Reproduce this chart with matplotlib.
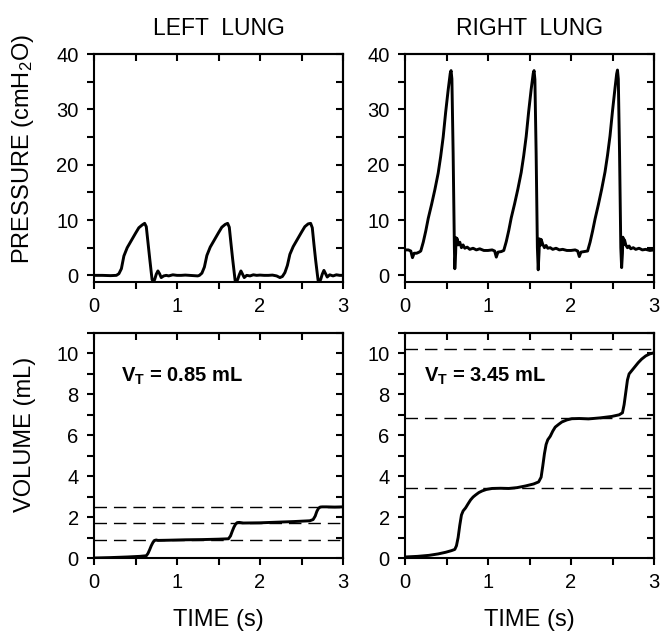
import matplotlib
matplotlib.use("Agg")
import matplotlib.pyplot as plt
from matplotlib.ticker import MultipleLocator

plt.rcParams['font.family'] = ['Liberation Sans', 'DejaVu Sans']
plt.rcParams['mathtext.fontset'] = 'custom'
plt.rcParams['mathtext.rm'] = 'Liberation Sans'
plt.rcParams['mathtext.it'] = 'Liberation Sans:italic'
plt.rcParams['mathtext.bf'] = 'Liberation Sans:bold'

# ---------------- data ----------------
left_p_t = [0.00, 0.10, 0.20, 0.27, 0.30, 0.33, 0.36, 0.40, 0.45, 0.50, 0.54, 0.58, 0.61, 0.63, 0.65, 0.67,
            0.69, 0.70, 0.73, 0.75, 0.77, 0.79, 0.81, 0.84, 0.87, 0.90, 0.95, 1.00, 1.05, 1.10, 1.15, 1.20,
            1.25, 1.27, 1.30, 1.33, 1.36, 1.40, 1.45, 1.50, 1.54, 1.58, 1.61, 1.63, 1.65, 1.67, 1.69, 1.70,
            1.73, 1.75, 1.77, 1.79, 1.81, 1.84, 1.88, 1.92, 1.96, 2.00, 2.05, 2.10, 2.15, 2.20, 2.24, 2.27,
            2.30, 2.33, 2.36, 2.40, 2.45, 2.50, 2.54, 2.58, 2.61, 2.63, 2.65, 2.67, 2.69, 2.70, 2.73, 2.75,
            2.77, 2.79, 2.81, 2.84, 2.88, 2.92, 2.96, 3.00]
left_p = [0.0, 0.0, -0.05, 0.0, 0.3, 1.2, 3.5, 5.0, 6.3, 7.6, 8.6, 9.1, 9.4, 8.8, 6.0, 3.2,
          0.5, -0.8, -0.8, 0.2, 0.8, 0.3, -0.4, -0.1, 0.0, -0.1, 0.1, 0.0, 0.0, 0.05, 0.0, -0.05,
          -0.1, 0.0, 0.4, 1.5, 3.6, 5.1, 6.4, 7.7, 8.7, 9.2, 9.4, 8.7, 5.8, 3.0, 0.4, -0.9,
          -0.8, 0.1, 0.8, 0.2, -0.4, 0.0, -0.1, 0.1, 0.0, 0.05, 0.0, 0.0, 0.05, -0.1, -0.4, -0.2,
          0.5, 1.8, 3.8, 5.2, 6.5, 7.8, 8.8, 9.3, 9.4, 8.6, 5.6, 2.8, 0.3, -0.9, -0.8, 0.2,
          0.9, 0.3, -0.3, 0.1, -0.1, 0.1, 0.0, 0.0]

right_p_t = [0.00, 0.04, 0.07, 0.09, 0.11, 0.14, 0.17, 0.19, 0.22, 0.25, 0.28, 0.32, 0.36, 0.40, 0.43, 0.46,
             0.49, 0.52, 0.545, 0.555, 0.565, 0.58, 0.595, 0.60, 0.61, 0.615, 0.62, 0.63, 0.64, 0.66, 0.68, 0.70,
             0.72, 0.75, 0.78, 0.82, 0.86, 0.90, 0.95, 1.00, 1.05, 1.08, 1.10, 1.12, 1.16, 1.19,
             1.22, 1.25, 1.28, 1.32, 1.36, 1.40, 1.43, 1.46, 1.49, 1.52, 1.545, 1.555, 1.565, 1.58, 1.595, 1.605,
             1.615, 1.62, 1.63, 1.64, 1.66, 1.68, 1.70, 1.72, 1.75, 1.78, 1.82, 1.86, 1.90, 1.95, 2.00, 2.05,
             2.08, 2.10, 2.12, 2.16, 2.20,
             2.23, 2.26, 2.29, 2.33, 2.37, 2.41, 2.44, 2.47, 2.50, 2.53, 2.55, 2.56, 2.57, 2.585, 2.60, 2.61,
             2.62, 2.625, 2.635, 2.645, 2.66, 2.68, 2.70, 2.72, 2.75, 2.78, 2.82, 2.86, 2.90, 2.95, 3.00]
right_p = [4.6, 4.6, 4.4, 3.2, 4.0, 4.0, 4.2, 4.4, 6.0, 8.0, 10.3, 12.8, 15.5, 18.5, 21.5, 25.0,
           29.5, 33.5, 36.5, 37.0, 35.5, 22.0, 5.0, 1.2, 4.0, 6.8, 5.5, 6.6, 5.5, 6.0, 5.0, 5.5,
           4.9, 5.1, 4.7, 4.9, 4.6, 4.8, 4.5, 4.5, 4.6, 4.4, 3.3, 4.2, 4.3, 4.5,
           6.1, 8.1, 10.4, 12.9, 15.6, 18.6, 21.6, 25.1, 29.6, 33.6, 36.5, 37.0, 35.4, 22.0, 5.0, 1.0,
           4.2, 6.6, 5.4, 6.5, 5.6, 5.0, 5.4, 4.9, 5.0, 4.7, 4.9, 4.6, 4.7, 4.5, 4.5, 4.6,
           4.4, 3.4, 4.2, 4.3, 4.4,
           6.0, 8.0, 10.2, 12.8, 15.6, 18.7, 21.7, 25.2, 29.7, 33.8, 36.4, 37.1, 35.5, 22.0, 5.0, 1.4,
           4.0, 6.9, 5.6, 6.4, 5.5, 5.0, 5.3, 4.8, 5.0, 4.7, 4.9, 4.6, 4.7, 4.5, 4.6]

left_v_t = [0.0, 0.2, 0.4, 0.55, 0.63, 0.65, 0.67, 0.69, 0.71, 0.73, 0.75, 0.77, 0.9, 1.1, 1.3, 1.5,
            1.62, 1.645, 1.665, 1.685, 1.705, 1.725, 1.75, 1.8, 2.0, 2.2, 2.4, 2.6, 2.64, 2.665, 2.685,
            2.705, 2.725, 2.75, 2.8, 2.9, 3.0]
left_v = [0.0, 0.02, 0.05, 0.08, 0.11, 0.22, 0.4, 0.6, 0.76, 0.86, 0.88, 0.86, 0.87, 0.89, 0.9, 0.92,
          0.94, 1.08, 1.3, 1.5, 1.65, 1.73, 1.74, 1.71, 1.72, 1.75, 1.78, 1.82, 1.88, 2.05, 2.28,
          2.43, 2.49, 2.5, 2.5, 2.49, 2.5]

right_v_t = [0.0, 0.15, 0.29, 0.40, 0.49, 0.56, 0.60, 0.62, 0.64, 0.66, 0.68, 0.70, 0.73, 0.76, 0.79, 0.82,
             0.85, 0.89, 0.93, 0.98, 1.05, 1.15, 1.25, 1.35, 1.45, 1.55, 1.61, 1.64, 1.66, 1.68, 1.70, 1.72,
             1.75, 1.78, 1.81, 1.85, 1.89, 1.95, 2.01, 2.10, 2.21, 2.35, 2.49, 2.58, 2.62, 2.64, 2.66, 2.68,
             2.70, 2.73, 2.77, 2.81, 2.85, 2.90, 2.95, 3.00]
right_v = [0.05, 0.08, 0.13, 0.2, 0.28, 0.36, 0.42, 0.6, 1.0, 1.6, 2.1, 2.3, 2.45, 2.65, 2.84, 2.98,
           3.08, 3.2, 3.28, 3.35, 3.4, 3.41, 3.4, 3.44, 3.52, 3.62, 3.72, 3.95, 4.5, 5.1, 5.55, 5.78,
           5.95, 6.2, 6.4, 6.53, 6.65, 6.75, 6.81, 6.82, 6.8, 6.85, 6.92, 7.0, 7.1, 7.5, 8.1, 8.7,
           9.0, 9.15, 9.35, 9.55, 9.72, 9.88, 9.98, 10.03]

left_levels = [0.86, 1.69, 2.49]
right_levels = [3.44, 6.84, 10.24]

titles = ["LEFT  LUNG", "RIGHT  LUNG"]
vt_labels = [r"V$_{\mathbf{T}}$ = 0.85 mL", r"V$_{\mathbf{T}}$ = 3.45 mL"]
x_ticks = [0, 1, 2, 3]
p_ticks = [0, 10, 20, 30, 40]
v_ticks = [0, 2, 4, 6, 8, 10]

# ---------------- figure ----------------
W, H = 661, 636
fig = plt.figure(figsize=(W / 100, H / 100), dpi=100)


def rect(x0, y0, x1, y1):
    return [x0 / W, 1 - y1 / H, (x1 - x0) / W, (y1 - y0) / H]


LW = 1.5
TRACE = 2.1
TICKFS = 14.5
LABFS = 16.5
YLABFS = 17


def style(ax, yt, ymin_loc):
    for s in ax.spines.values():
        s.set_linewidth(LW)
    ax.set_xlim(0, 3)
    ax.set_xticks(x_ticks)
    ax.xaxis.set_minor_locator(MultipleLocator(0.5))
    ax.set_yticks(yt)
    ax.yaxis.set_minor_locator(MultipleLocator(ymin_loc))
    ax.tick_params(which='both', direction='out', length=5, width=LW, labelsize=TICKFS,
                   top=False, right=False, pad=6)
    secx = ax.secondary_xaxis('top')
    secx.set_xticks(x_ticks)
    secx.xaxis.set_minor_locator(MultipleLocator(0.5))
    secx.tick_params(which='both', direction='in', length=5, width=LW, labeltop=False)
    secx.spines['top'].set_linewidth(LW)
    secy = ax.secondary_yaxis('right')
    secy.set_yticks(yt)
    secy.yaxis.set_minor_locator(MultipleLocator(ymin_loc))
    secy.tick_params(which='both', direction='in', length=5, width=LW, labelright=False)
    secy.spines['right'].set_linewidth(LW)


ax_lp = fig.add_axes(rect(94, 54, 343, 282))
ax_rp = fig.add_axes(rect(405, 54, 654, 282))
ax_lv = fig.add_axes(rect(94, 333, 343, 558))
ax_rv = fig.add_axes(rect(405, 333, 654, 558))

ax_lp.plot(left_p_t, left_p, color='black', lw=TRACE)
ax_rp.plot(right_p_t, right_p, color='black', lw=TRACE)
for ax in (ax_lp, ax_rp):
    ax.set_ylim(-1.2, 40)
    style(ax, p_ticks, 5)

for ax, t, v, lev, lab, tx in ((ax_lv, left_v_t, left_v, left_levels, vt_labels[0], 0.33),
                                (ax_rv, right_v_t, right_v, right_levels, vt_labels[1], 0.23)):
    for L in lev:
        ax.axhline(L, color='black', lw=1.0, dashes=(9, 5))
    ax.plot(t, v, color='black', lw=TRACE)
    ax.set_ylim(0, 11)
    style(ax, v_ticks, 1)
    ax.text(tx, 8.9, lab, fontsize=14.5, fontweight='bold', va='center', ha='left')
    ax.set_xlabel("TIME (s)", fontsize=LABFS + 0.5, labelpad=12)

ax_lp.set_ylabel(r"PRESSURE (cmH$_2$O)", fontsize=YLABFS)
ax_lv.set_ylabel("VOLUME (mL)", fontsize=YLABFS)
ax_lp.yaxis.set_label_coords(-0.232, 0.585)
ax_lv.yaxis.set_label_coords(-0.232, 0.55)
ax_lp.set_title(titles[0], fontsize=LABFS, pad=14)
ax_rp.set_title(titles[1], fontsize=LABFS, pad=14)

fig.savefig("out.png", dpi=100)
